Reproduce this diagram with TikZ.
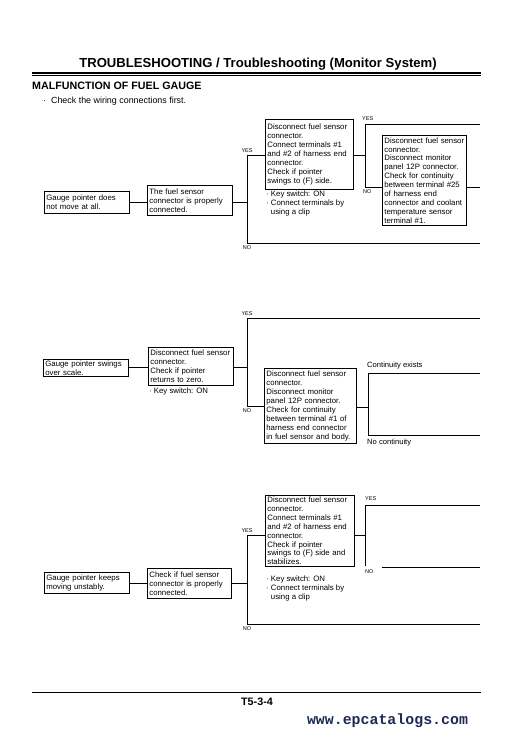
\documentclass[tikz,border=0pt]{standalone}
\usepackage{fontspec}
\setmainfont{Liberation Sans}
\newfontfamily\webfont{Liberation Mono}
\usetikzlibrary{positioning}
\definecolor{webblue}{RGB}{30,42,84}
\newcommand{\boxfont}{\fontsize{7.8}{8.9}\selectfont}

\begin{document}
\begin{tikzpicture}[x=1pt, y=-1pt,
  box/.style={draw, line width=0.8pt, anchor=north west, align=left, font=\boxfont, inner xsep=2pt, inner ysep=1pt},
  note/.style={anchor=north west, align=left, font=\boxfont, inner sep=0pt},
  tag/.style={font=\fontsize{5.5}{6}\selectfont, inner sep=0pt},
  wire/.style={line width=0.8pt}]

\useasboundingbox (0,0) rectangle (519,738);

% page head
\node[font=\bfseries\fontsize{13.1}{14}\selectfont] (title) at (258,64) {TROUBLESHOOTING / Troubleshooting (Monitor System)};
\draw[line width=1.1pt] (32,73) -- (481,73);
\draw[line width=0.6pt] (32,75.6) -- (481,75.6);
\node[anchor=base west, inner sep=0pt, font=\bfseries\fontsize{10.7}{12}\selectfont] (head) at (32,90) {MALFUNCTION OF FUEL GAUGE};
\node[anchor=base west, inner sep=0pt, font=\fontsize{8.9}{10}\selectfont] (first) at (43,104) {·\ \ Check the wiring connections first.};

% first case
\node[box, text width=81pt, minimum height=22pt] (p1) at (44,191) {Gauge pointer does\\not move at all.};
\node[box, text width=81pt, minimum height=30pt] (c1) at (147,185) {The fuel sensor\\connector is properly\\connected.};
\node[box, text width=84pt, minimum height=70pt] (d1) at (265,119) {Disconnect fuel sensor\\connector.\\Connect terminals \#1\\and \#2 of harness end\\connector.\\Check if pointer\\swings to (F) side.};
\node[note] (k1) at (266,190.5) {·\ Key switch: ON\\·\ Connect terminals by\\\hphantom{·\ }using a clip};
\node[box, text width=80pt, minimum height=90pt] (e1) at (382,135) {Disconnect fuel sensor\\connector.\\Disconnect monitor\\panel 12P connector.\\Check for continuity\\between terminal \#25\\of harness end\\connector and coolant\\temperature sensor\\terminal \#1.};

\coordinate (y1) at (247,155);
\coordinate (n1) at (247,243);
\coordinate (n1e) at (480,243);
\coordinate (y2) at (365,124);
\coordinate (y2e) at (480,124);
\coordinate (n2) at (365,187);
\coordinate (e1e) at (480,187);

\draw[wire] (p1.east |- 0,202) -- (c1.west |- 0,202);
\draw[wire] (c1.east |- 0,202) -- (247,202);
\draw[wire] (d1.west |- y1) -- (y1) -- (n1) -- (n1e);
\draw[wire] (d1.east |- y1) -- (y1 -| y2) ;
\draw[wire] (y2e) -- (y2) -- (n2) -- (n2 -| e1.west);
\draw[wire] (e1.east |- n2) -- (e1e);
\node[tag, above=2.5pt of y1] {YES};
\node[tag, below=2.5pt of n1] {NO};
\node[tag, anchor=south west] at (362,121) {YES};
\node[tag, anchor=north west] at (363,189) {NO};

% second case
\node[box, text width=81pt, minimum height=17pt, inner ysep=0pt] (p2) at (43,359) {Gauge pointer swings\\over scale.};
\node[box, text width=81pt, minimum height=38pt] (c2) at (148,347) {Disconnect fuel sensor\\connector.\\Check if pointer\\returns to zero.};
\node[note] (k2) at (149,387.5) {·\ Key switch: ON};
\node[box, text width=88pt, minimum height=75pt] (d2) at (264,368) {Disconnect fuel sensor\\connector.\\Disconnect monitor\\panel 12P connector.\\Check for continuity\\between terminal \#1 of\\harness end connector\\in fuel sensor and body.};

\coordinate (y3) at (247,318);
\coordinate (y3e) at (480,318);
\coordinate (n3) at (247,406);
\coordinate (t4) at (368,373);
\coordinate (t4e) at (480,373);
\coordinate (b4) at (368,435);
\coordinate (b4e) at (480,435);

\draw[wire] (p2.east |- 0,367) -- (c2.west |- 0,367);
\draw[wire] (c2.east |- 0,367) -- (247,367);
\draw[wire] (y3e) -- (y3) -- (n3) -- (n3 -| d2.west);
\draw[wire] (d2.east |- 0,407) -- (368,407);
\draw[wire] (t4e) -- (t4) -- (b4) -- (b4e);
\node[tag, above=2.5pt of y3] {YES};
\node[tag, below=2.5pt of n3] {NO};
\node[note, font=\fontsize{7.6}{9}\selectfont, anchor=base west] at (367,367.5) {Continuity exists};
\node[note, font=\fontsize{7.6}{9}\selectfont, anchor=base west] at (367,444.5) {No continuity};

% third case
\node[box, text width=81pt, minimum height=21pt] (p3) at (44,572) {Gauge pointer keeps\\moving unstably.};
\node[box, text width=80pt, minimum height=30pt] (c3) at (147,568) {Check if fuel sensor\\connector is properly\\connected.};
\node[box, text width=85pt, minimum height=71pt, inner ysep=0pt] (d3) at (265,495) {Disconnect fuel sensor\\connector.\\Connect terminals \#1\\and \#2 of harness end\\connector.\\Check if pointer\\swings to (F) side and\\stabilizes.};
\node[note] (k3) at (266,575.5) {·\ Key switch: ON\\·\ Connect terminals by\\\hphantom{·\ }using a clip};

\coordinate (y5) at (247,535);
\coordinate (n5) at (247,624);
\coordinate (n5e) at (480,624);
\coordinate (y6) at (365,505);
\coordinate (y6e) at (480,505);
\coordinate (n6) at (365,566);
\coordinate (n6s) at (382,567);
\coordinate (n6e) at (480,567);

\draw[wire] (p3.east |- 0,583) -- (c3.west |- 0,583);
\draw[wire] (c3.east |- 0,583) -- (247,583);
\draw[wire] (d3.west |- y5) -- (y5) -- (n5) -- (n5e);
\draw[wire] (d3.east |- y5) -- (y5 -| y6);
\draw[wire] (y6e) -- (y6) -- (n6);
\draw[wire] (n6s) -- (n6e);
\node[tag, above=2.5pt of y5] {YES};
\node[tag, below=2.5pt of n5] {NO};
\node[tag, anchor=south west] at (365,501) {YES};
\node[tag, anchor=north west] at (365,569) {NO};

% page foot
\draw[line width=0.8pt] (32,692) -- (481,692);
\node[font=\bfseries\fontsize{10.8}{12}\selectfont] (page) at (257,702) {T5-3-4};
\node[font=\webfont\bfseries\fontsize{14.9}{16}\selectfont, text=webblue] (web) at (387.5,721) {www.epcatalogs.com};

\end{tikzpicture}
\end{document}
